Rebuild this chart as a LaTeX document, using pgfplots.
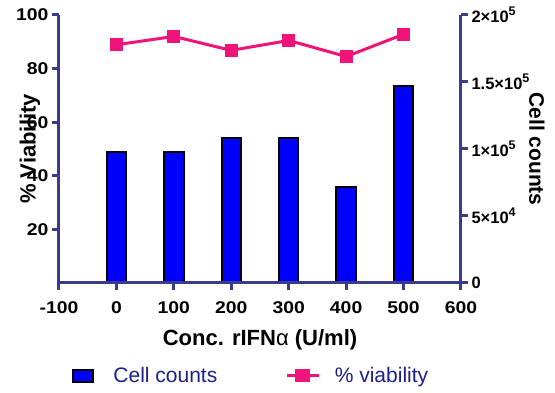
\documentclass[border=0pt]{standalone}
\usepackage{pgfplots}
\pgfplotsset{compat=1.18}
\usepackage{fontspec}
\setmainfont{Liberation Sans}
\definecolor{axcol}{RGB}{58,60,135}
\definecolor{vpink}{RGB}{240,20,122}
\definecolor{legtext}{RGB}{30,30,140}
\definecolor{barblue}{RGB}{0,0,255}
\newcommand{\sups}[1]{\raisebox{0.42em}{\fontsize{12.5}{12.5}\selectfont #1}}
\newcommand{\sx}[1]{\scalebox{1.14}[1]{#1}}
\begin{document}
\begin{tikzpicture}
\pgfplotsset{
 common/.style={
  scale only axis, width=402pt, height=268pt,
  at={(0pt,0pt)}, anchor=south west,
  xmin=-100, xmax=600,
  axis line style={-, line width=3pt, color=axcol},
  tick style={line width=3pt, color=axcol},
  tick align=outside,
  major tick length=7pt,
  scaled y ticks=false, scaled x ticks=false,
  /pgf/number format/assume math mode=true,
 }
}
\begin{axis}[common,
  axis x line=none, axis y line*=right,
  ymin=0, ymax=200000,
  ytick={0,50000,100000,150000,200000},
  yticklabels={0,5×10\sups{4},1×10\sups{5},1.5×10\sups{5},2×10\sups{5}},
  yticklabel style={font=\fontsize{16.5}{16.5}\selectfont\bfseries, xshift=0pt},
  every axis y label/.style={at={(axis description cs:1.189,0.5)}, rotate=-90, anchor=center, font=\fontsize{21}{21}\selectfont\bfseries},
  ylabel={Cell counts},
]
\addplot[ybar, bar width=19.5pt, fill=barblue, draw=black, line width=2pt] coordinates {(0,97700) (100,97700) (200,107900) (300,107900) (400,71700) (500,147000)};
\end{axis}
\begin{axis}[common,
  axis x line*=bottom, axis y line*=left,
  ymin=0, ymax=100,
  ytick={20,40,60,80,100},
  yticklabels={\sx{20},\sx{40},\sx{60},\sx{80},\sx{100}},
  xtick={-100,0,100,200,300,400,500,600},
  xticklabels={\sx{-100},\sx{0},\sx{100},\sx{200},\sx{300},\sx{400},\sx{500},\sx{600}},
  yticklabel style={font=\fontsize{17}{17}\selectfont\bfseries},
  xticklabel style={font=\fontsize{17}{17}\selectfont\bfseries, yshift=-8pt},
  every axis y label/.style={at={(axis description cs:-0.072,0.5)}, rotate=90, anchor=center, font=\fontsize{22}{22}\selectfont\bfseries},
  ylabel={\% Viability},
  every axis x label/.style={at={(axis description cs:0.5,-0.213)}, anchor=center, font=\fontsize{22}{22}\selectfont\bfseries},
  xlabel={Conc. rIFN{\mdseries α} (U/ml)},
  legend columns=2,
  legend style={at={(axis description cs:0.033,-0.347)}, anchor=west, draw=none, fill=none, inner sep=0pt,
    font=\fontsize{21}{21}\selectfont, text=legtext,
    /tikz/every even column/.append style={column sep=66pt},
    nodes={inner xsep=2pt}},
]
\addlegendimage{legend image code/.code={\draw[fill=barblue, draw=black, line width=2pt] (0pt,-6pt) rectangle (20pt,6pt); \path[draw=none] (0pt,0pt) -- (38pt,0pt);}}
\addlegendentry{Cell counts}
\addplot[vpink, line width=3pt, mark=square*, mark size=6pt, mark options={solid, fill=vpink, draw=vpink, line width=0pt},
  legend image code/.code={\draw[vpink, line width=3pt] (0pt,0pt) -- (32pt,0pt); \fill[vpink] (10pt,-5pt) rectangle (22pt,5pt); \path[draw=none] (0pt,0pt) -- (46pt,0pt);}]
  coordinates {(0,88.9) (100,92.0) (200,86.8) (300,90.5) (400,84.5) (500,92.8)};
\addlegendentry{\% viability}
\end{axis}
\pgfresetboundingbox
\path[use as bounding box] (-59pt,-110pt) rectangle (496pt,283pt);
\end{tikzpicture}
\end{document}
